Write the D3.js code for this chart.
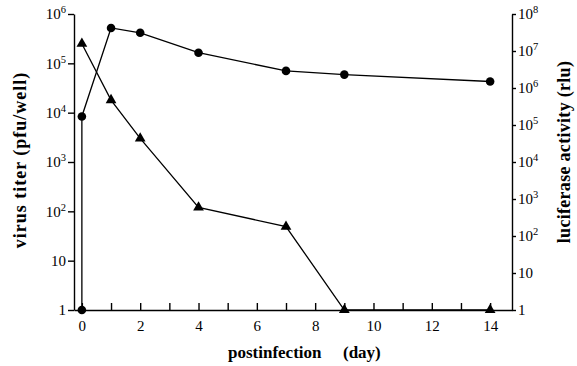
<!DOCTYPE html>
<html>
<head>
<meta charset="utf-8">
<script src="https://cdn.jsdelivr.net/npm/d3@7"></script>
<style>
  html, body { margin: 0; padding: 0; background: #fff; }
  svg { display: block; font-family: "Liberation Serif", "Times New Roman", serif; }
</style>
</head>
<body>
<div id="chart"></div>
<script>
// virus titer (pfu/well), left axis, triangles
const titerDays = [0, 1, 2, 4, 7, 9, 14];
const titerValues = [2.5e5, 1.8e4, 3.0e3, 120, 49, 1, 1];

// luciferase activity (rlu), right axis, circles
const lucDays = [0, 0, 1, 2, 4, 7, 9, 14];
const lucValues = [1, 1.7e5, 4.2e7, 3.1e7, 9.0e6, 2.9e6, 2.3e6, 1.5e6];

const dayTicks = d3.range(0, 15);
const leftTicks = [1, 10, 1e2, 1e3, 1e4, 1e5, 1e6];
const rightTicks = [1, 10, 1e2, 1e3, 1e4, 1e5, 1e6, 1e7, 1e8];

const width = 577, height = 366;
const svg = d3.select('#chart').append('svg')
  .attr('width', width)
  .attr('height', height);

const x = d3.scaleLinear().domain([-0.27, 14.75]).range([74, 512]);
const yL = d3.scaleLog().domain([1, 1e6]).range([310, 14]);
const yR = d3.scaleLog().domain([1, 1e8]).range([310, 14]);

// writes 1, 10, 10^n labels with superscript
function powerLabel(sel) {
  sel.each(function (d) {
    const t = d3.select(this).text('');
    const e = Math.round(Math.log10(d));
    if (e < 2) { t.text(d === 1 ? '1' : '10'); return; }
    t.append('tspan').text('10');
    t.append('tspan').attr('font-size', '10.5px').attr('dy', '-6').text(e);
  });
}

function styleAxis(g) {
  g.attr('font-family', null).attr('font-size', '15px');
  g.selectAll('path, line').attr('stroke', '#000').attr('stroke-width', 1.4);
  g.selectAll('text').attr('fill', '#000');
}

// bottom axis: ticks point inward
svg.append('g')
  .attr('transform', `translate(0,${yL(1)})`)
  .call(d3.axisBottom(x).tickValues(dayTicks).tickSizeInner(-7).tickSizeOuter(0).tickPadding(10)
    .tickFormat(d => d % 2 === 0 ? d : ''))
  .call(styleAxis);

// left axis
svg.append('g')
  .attr('transform', `translate(${x.range()[0]},0)`)
  .call(d3.axisLeft(yL).tickValues(leftTicks).tickSizeInner(6).tickSizeOuter(0).tickPadding(2))
  .call(styleAxis)
  .selectAll('.tick text').call(powerLabel);

// right axis
svg.append('g')
  .attr('transform', `translate(${x.range()[1]},0)`)
  .call(d3.axisRight(yR).tickValues(rightTicks).tickSizeInner(4).tickSizeOuter(0).tickPadding(2))
  .call(styleAxis)
  .selectAll('.tick text').call(powerLabel);

// titles
svg.append('text')
  .attr('transform', 'translate(26,160) rotate(-90)')
  .attr('text-anchor', 'middle')
  .attr('font-weight', 'bold')
  .attr('font-size', '18px')
  .attr('letter-spacing', '1px')
  .text('virus titer (pfu/well)');

svg.append('text')
  .attr('transform', 'translate(570,152) rotate(-90)')
  .attr('text-anchor', 'middle')
  .attr('font-weight', 'bold')
  .attr('font-size', '18px')
  .attr('letter-spacing', '0.3px')
  .text('luciferase activity (rlu)');

const xt = svg.append('text')
  .attr('y', 358)
  .attr('font-weight', 'bold')
  .attr('font-size', '17px');
xt.append('tspan').attr('x', 228).text('postinfection');
xt.append('tspan').attr('x', 343).text('(day)');

// series
const titer = titerDays.map((d, i) => ({ day: d, v: titerValues[i] }));
const luc = lucDays.map((d, i) => ({ day: d, v: lucValues[i] }));

svg.append('path')
  .datum(titer)
  .attr('fill', 'none')
  .attr('stroke', '#000')
  .attr('stroke-width', 1.3)
  .attr('d', d3.line().x(d => x(d.day)).y(d => yL(d.v)));

svg.append('path')
  .datum(luc)
  .attr('fill', 'none')
  .attr('stroke', '#000')
  .attr('stroke-width', 1.3)
  .attr('d', d3.line().x(d => x(d.day)).y(d => yR(d.v)));

svg.selectAll('.tri')
  .data(titer)
  .join('path')
  .attr('class', 'tri')
  .attr('transform', d => `translate(${x(d.day)},${yL(d.v)})`)
  .attr('d', d3.symbol(d3.symbolTriangle, 50))
  .attr('fill', '#000');

svg.selectAll('.dot')
  .data(luc)
  .join('circle')
  .attr('class', 'dot')
  .attr('cx', d => x(d.day))
  .attr('cy', d => yR(d.v))
  .attr('r', 4.3)
  .attr('fill', '#000');
</script>
</body>
</html>
